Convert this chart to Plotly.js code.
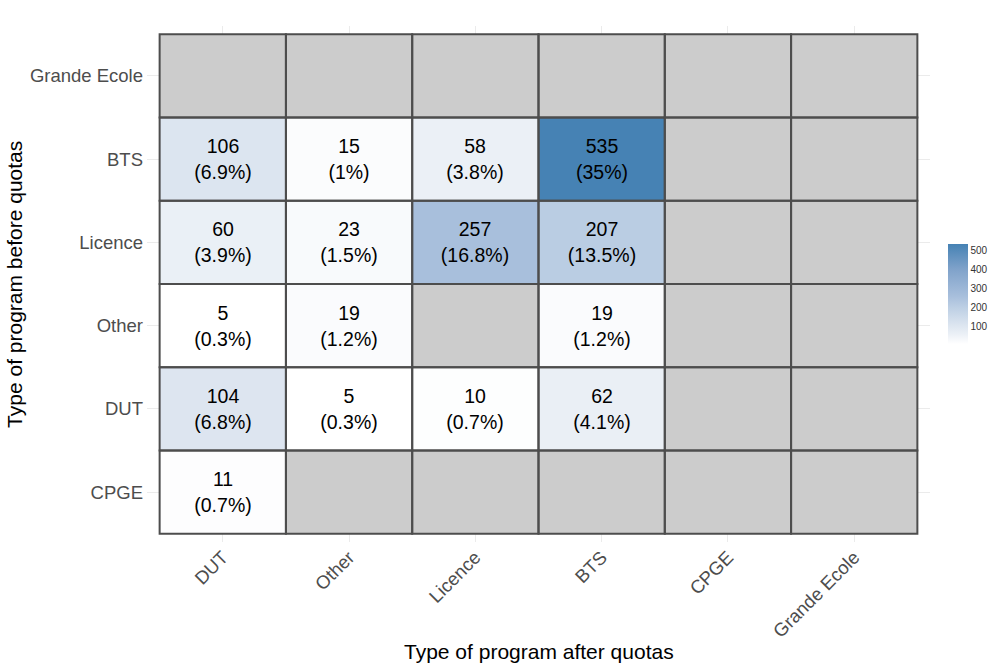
<!DOCTYPE html>
<html><head><meta charset="utf-8">
<script src="https://cdn.plot.ly/plotly-3.0.1.min.js"></script>
<style>body{margin:0;background:#fff}#chart{width:1005px;height:670px}</style>
</head><body><div id="chart"></div>
<script>
const afterCats = ["DUT","Other","Licence","BTS","CPGE","Grande Ecole"];
const beforeCats = ["CPGE","DUT","Other","Licence","BTS","Grande Ecole"];
// counts: rows = beforeCats, cols = afterCats
const counts = [
  [11, null, null, null, null, null],
  [104, 5, 10, 62, null, null],
  [5, 19, null, 19, null, null],
  [60, 23, 257, 207, null, null],
  [106, 15, 58, 535, null, null],
  [null, null, null, null, null, null]
];
const pctLabels = [
  ["0.7%", null, null, null, null, null],
  ["6.8%", "0.3%", "0.7%", "4.1%", null, null],
  ["0.3%", "1.2%", null, "1.2%", null, null],
  ["3.9%", "1.5%", "16.8%", "13.5%", null, null],
  ["6.9%", "1%", "3.8%", "35%", null, null],
  [null, null, null, null, null, null]
];
const colorbarTicks = [100,200,300,400,500];

const text = counts.map((r,i)=>r.map((v,j)=> v==null ? "" : v + "<br>(" + pctLabels[i][j] + ")"));
const naZ = counts.map(r=>r.map(()=>1));

const traces = [
  {type:"heatmap", x:afterCats, y:beforeCats, z:naZ, colorscale:[[0,"#CCCCCC"],[1,"#CCCCCC"]],
   showscale:false, hoverinfo:"skip"},
  {type:"heatmap", x:afterCats, y:beforeCats, z:counts, text:text, texttemplate:"%{text}",
   textfont:{family:"Liberation Sans, Arial, sans-serif", size:19.5, color:"#000"},
   colorscale:[[0,"#FFFFFF"],[0.1,"#EBF0F6"],[0.19,"#DCE5F0"],[0.38,"#BACDE3"],[0.475,"#A8BFDC"],[0.75,"#7FA2CA"],[1,"#4682B4"]],
   zmin:5, zmax:535, hoverongaps:false,
   colorbar:{x:1.023, xanchor:"left", y:0.48, yanchor:"middle", len:100, lenmode:"pixels",
     thickness:20, outlinewidth:0, ticks:"", tickvals:colorbarTicks,
     tickfont:{family:"Liberation Sans, Arial, sans-serif", size:10, color:"#333"}, xpad:0, ypad:0}}
];

const shapes = [];
afterCats.forEach((c,j)=>beforeCats.forEach((r,i)=>{
  shapes.push({type:"rect", xref:"x", yref:"y", x0:j-0.5, x1:j+0.5, y0:i-0.5, y1:i+0.5,
    line:{color:"#4D4D4D", width:2}, layer:"above"});
}));

const layout = {
  width:1005, height:670,
  margin:{l:147, r:75, t:26, b:128},
  paper_bgcolor:"#fff", plot_bgcolor:"#fff",
  font:{family:"Liberation Sans, Arial, sans-serif"},
  xaxis:{type:"category", range:[-0.6,5.6], showgrid:true, gridcolor:"#EBEBEB", gridwidth:1,
    zeroline:false, showline:false, ticks:"", tickangle:-45,
    tickfont:{size:18.5, color:"#4D4D4D"}, categoryorder:"array", categoryarray:afterCats},
  yaxis:{type:"category", range:[-0.6,5.6], showgrid:true, gridcolor:"#EBEBEB", gridwidth:1,
    zeroline:false, showline:false, ticks:"", ticklabelstandoff:3,
    tickfont:{size:18.5, color:"#4D4D4D"}, categoryorder:"array", categoryarray:beforeCats},
  shapes:shapes,
  annotations:[
    {text:"Type of program after quotas", xref:"paper", yref:"paper", x:0.5, y:-0.213, yanchor:"middle",
     showarrow:false, font:{size:21, color:"#000"}},
    {text:"Type of program before quotas", xref:"paper", yref:"paper", x:-0.17, y:0.5, textangle:-90,
     xanchor:"center", showarrow:false, font:{size:21, color:"#000"}}
  ]
};
Plotly.newPlot("chart", traces, layout, {displayModeBar:false});
</script></body></html>
